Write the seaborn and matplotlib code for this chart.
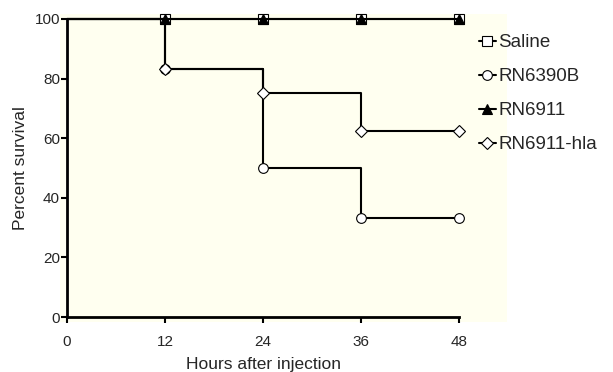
import matplotlib
matplotlib.use('Agg')
import matplotlib.pyplot as plt
from matplotlib.patches import Rectangle
import seaborn as sns

# Data
hours = [0, 12, 24, 36, 48]
saline = [100, 100, 100, 100, 100]
rn6390b = [100, 83.3, 50, 33.3, 33.3]
rn6911 = [100, 100, 100, 100, 100]
rn6911_hla = [100, 83.3, 75, 62.5, 62.5]

series_names = ['Saline', 'RN6390B', 'RN6911', 'RN6911-hla']
series_values = [saline, rn6390b, rn6911, rn6911_hla]
markers = ['s', 'o', '^', 'D']
facecolors = ['white', 'white', 'black', 'white']
sizes = [6.5, 7, 7, 6]

sns.set_style('ticks')
plt.rcParams['font.family'] = ['Liberation Sans', 'DejaVu Sans']

fig = plt.figure(figsize=(6.13, 3.72), dpi=100)
fig.patch.set_facecolor('white')
# cream background panel behind plot and legend
fig.patches.append(Rectangle((0.098, 0.134), 0.729, 0.828, transform=fig.transFigure,
                             facecolor='#fffff0', edgecolor='none', zorder=-10))

ax = fig.add_axes([0.1093, 0.1478, 0.6395, 0.8012])
ax.patch.set_alpha(0)

for name, vals, m, fc, ms in zip(series_names, series_values, markers, facecolors, sizes):
    sns.lineplot(x=hours, y=vals, ax=ax, color='black', linewidth=1.5,
                 drawstyle='steps-post', marker=m, markersize=ms,
                 markerfacecolor=fc, markeredgecolor='black', markeredgewidth=0.8,
                 markevery=[1, 2, 3, 4], label=name, clip_on=False)

ax.set_xlim(0, 48)
ax.set_ylim(0, 100)
ax.set_xticks([0, 12, 24, 36, 48])
ax.set_yticks([0, 20, 40, 60, 80, 100])
ax.tick_params(axis='both', labelsize=11, width=1.5, length=4, color='black')
ax.tick_params(axis='x', pad=9)
ax.tick_params(axis='y', pad=1)
for s in ['top', 'right']:
    ax.spines[s].set_visible(False)
for s in ['left', 'bottom']:
    ax.spines[s].set_linewidth(2)
    ax.spines[s].set_color('black')

ax.set_xlabel('Hours after injection', fontsize=12.5, labelpad=6)
ax.set_ylabel('Percent survival', fontsize=12.5, labelpad=5)

ax.legend(loc='upper left', bbox_to_anchor=(0.781, 0.908), bbox_transform=fig.transFigure,
          frameon=False, fontsize=13.5, handlelength=0.9, handletextpad=0.15,
          labelspacing=0.9, borderpad=0, borderaxespad=0)

fig.savefig('out.png', dpi=100)
